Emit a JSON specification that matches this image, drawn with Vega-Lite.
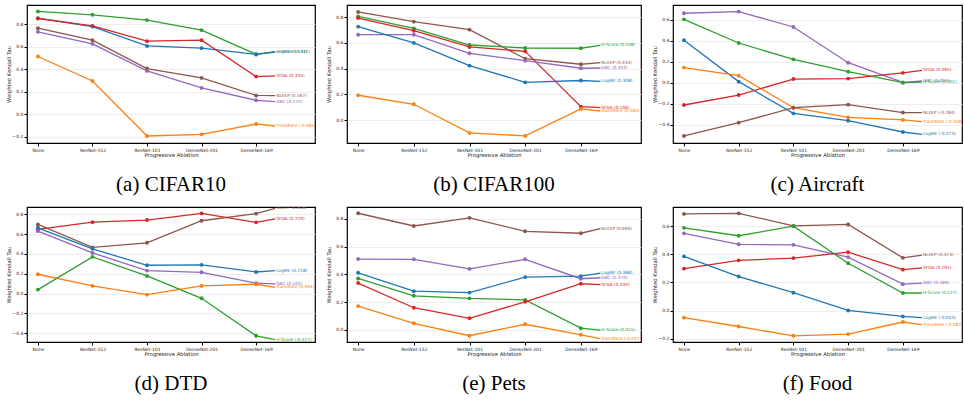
{
  "$schema": "https://vega.github.io/schema/vega-lite/v6.json",
  "padding": {"left": 5, "top": 4, "right": 0, "bottom": 0},
  "background": "white",
  "config": {
    "font": "DejaVu Sans",
    "view": {"stroke": "#000", "strokeWidth": 1.2},
    "axis": {
      "labelFont": "DejaVu Sans", "labelFontSize": 4.5, "labelColor": "#222",
      "titleFont": "DejaVu Sans", "titleFontSize": 5.3, "titleFontWeight": "normal", "titleColor": "#222",
      "domain": false, "tickColor": "#000", "tickSize": 3, "labelPadding": 1.2, "titlePadding": 1.5
    },
    "axisY": {"grid": true, "gridColor": "#e8e8e8", "gridWidth": 0.8, "minExtent": 14.5, "maxExtent": 14.5},
    "axisX": {"grid": false, "titlePadding": 1},
    "title": {"font": "Liberation Serif", "fontSize": 21, "fontWeight": "normal", "color": "#000", "orient": "bottom", "offset": 16, "anchor": "middle"}
  },
  "datasets": {
    "cifar10": [
      {"m": "H-Score", "s": 0, "v": 0.913}, {"m": "H-Score", "s": 1, "v": 0.883}, {"m": "H-Score", "s": 2, "v": 0.836}, {"m": "H-Score", "s": 3, "v": 0.747}, {"m": "H-Score", "s": 4, "v": 0.533}, {"m": "H-Score", "s": 4.35, "v": 0.557, "lab": "H-Score (0.532)"},
      {"m": "LogME", "s": 0, "v": 0.853}, {"m": "LogME", "s": 1, "v": 0.779}, {"m": "LogME", "s": 2, "v": 0.607}, {"m": "LogME", "s": 3, "v": 0.587}, {"m": "LogME", "s": 4, "v": 0.531}, {"m": "LogME", "s": 4.35, "v": 0.552, "lab": "LogME (0.531)"},
      {"m": "SFDA", "s": 0, "v": 0.850}, {"m": "SFDA", "s": 1, "v": 0.785}, {"m": "SFDA", "s": 2, "v": 0.649}, {"m": "SFDA", "s": 3, "v": 0.658}, {"m": "SFDA", "s": 4, "v": 0.335}, {"m": "SFDA", "s": 4.35, "v": 0.341, "lab": "SFDA (0.334)"},
      {"m": "NLEEP", "s": 0, "v": 0.764}, {"m": "NLEEP", "s": 1, "v": 0.658}, {"m": "NLEEP", "s": 2, "v": 0.406}, {"m": "NLEEP", "s": 3, "v": 0.323}, {"m": "NLEEP", "s": 4, "v": 0.167}, {"m": "NLEEP", "s": 4.35, "v": 0.165, "lab": "NLEEP (0.167)"},
      {"m": "GBC", "s": 0, "v": 0.732}, {"m": "GBC", "s": 1, "v": 0.625}, {"m": "GBC", "s": 2, "v": 0.385}, {"m": "GBC", "s": 3, "v": 0.234}, {"m": "GBC", "s": 4, "v": 0.124}, {"m": "GBC", "s": 4.35, "v": 0.113, "lab": "GBC (0.124)"},
      {"m": "TransRate", "s": 0, "v": 0.513}, {"m": "TransRate", "s": 1, "v": 0.296}, {"m": "TransRate", "s": 2, "v": -0.193}, {"m": "TransRate", "s": 3, "v": -0.178}, {"m": "TransRate", "s": 4, "v": -0.086}, {"m": "TransRate", "s": 4.35, "v": -0.104, "lab": "TransRate (-0.085)"}
    ],
    "cifar100": [
      {"m": "NLEEP", "s": 0, "v": 0.839}, {"m": "NLEEP", "s": 1, "v": 0.764}, {"m": "NLEEP", "s": 2, "v": 0.702}, {"m": "NLEEP", "s": 3, "v": 0.477}, {"m": "NLEEP", "s": 4, "v": 0.434}, {"m": "NLEEP", "s": 4.35, "v": 0.446, "lab": "NLEEP (0.434)"},
      {"m": "H-Score", "s": 0, "v": 0.805}, {"m": "H-Score", "s": 1, "v": 0.712}, {"m": "H-Score", "s": 2, "v": 0.583}, {"m": "H-Score", "s": 3, "v": 0.560}, {"m": "H-Score", "s": 4, "v": 0.558}, {"m": "H-Score", "s": 4.35, "v": 0.581, "lab": "H-Score (0.558)"},
      {"m": "SFDA", "s": 0, "v": 0.792}, {"m": "SFDA", "s": 1, "v": 0.694}, {"m": "SFDA", "s": 2, "v": 0.568}, {"m": "SFDA", "s": 3, "v": 0.534}, {"m": "SFDA", "s": 4, "v": 0.106}, {"m": "SFDA", "s": 4.35, "v": 0.098, "lab": "SFDA (0.106)"},
      {"m": "GBC", "s": 0, "v": 0.663}, {"m": "GBC", "s": 1, "v": 0.663}, {"m": "GBC", "s": 2, "v": 0.519}, {"m": "GBC", "s": 3, "v": 0.462}, {"m": "GBC", "s": 4, "v": 0.403}, {"m": "GBC", "s": 4.35, "v": 0.405, "lab": "GBC (0.403)"},
      {"m": "LogME", "s": 0, "v": 0.725}, {"m": "LogME", "s": 1, "v": 0.599}, {"m": "LogME", "s": 2, "v": 0.423}, {"m": "LogME", "s": 3, "v": 0.294}, {"m": "LogME", "s": 4, "v": 0.308}, {"m": "LogME", "s": 4.35, "v": 0.302, "lab": "LogME (0.308)"},
      {"m": "TransRate", "s": 0, "v": 0.194}, {"m": "TransRate", "s": 1, "v": 0.124}, {"m": "TransRate", "s": 2, "v": -0.098}, {"m": "TransRate", "s": 3, "v": -0.121}, {"m": "TransRate", "s": 4, "v": 0.088}, {"m": "TransRate", "s": 4.35, "v": 0.072, "lab": "TransRate (0.084)"}
    ],
    "aircraft": [
      {"m": "GBC", "s": 0, "v": 0.664}, {"m": "GBC", "s": 1, "v": 0.680}, {"m": "GBC", "s": 2, "v": 0.533}, {"m": "GBC", "s": 3, "v": 0.192}, {"m": "GBC", "s": 4, "v": 0.004}, {"m": "GBC", "s": 4.35, "v": 0.017, "lab": "GBC (0.004)"},
      {"m": "H-Score", "s": 0, "v": 0.606}, {"m": "H-Score", "s": 1, "v": 0.380}, {"m": "H-Score", "s": 2, "v": 0.224}, {"m": "H-Score", "s": 3, "v": 0.106}, {"m": "H-Score", "s": 4, "v": 0.001}, {"m": "H-Score", "s": 4.35, "v": 0.006, "lab": "H-Score (0.001)"},
      {"m": "LogME", "s": 0, "v": 0.406}, {"m": "LogME", "s": 1, "v": 0.011}, {"m": "LogME", "s": 2, "v": -0.292}, {"m": "LogME", "s": 3, "v": -0.362}, {"m": "LogME", "s": 4, "v": -0.470}, {"m": "LogME", "s": 4.35, "v": -0.492, "lab": "LogME (-0.473)"},
      {"m": "TransRate", "s": 0, "v": 0.145}, {"m": "TransRate", "s": 1, "v": 0.068}, {"m": "TransRate", "s": 2, "v": -0.238}, {"m": "TransRate", "s": 3, "v": -0.330}, {"m": "TransRate", "s": 4, "v": -0.355}, {"m": "TransRate", "s": 4.35, "v": -0.371, "lab": "TransRate (-0.358)"},
      {"m": "SFDA", "s": 0, "v": -0.212}, {"m": "SFDA", "s": 1, "v": -0.117}, {"m": "SFDA", "s": 2, "v": 0.036}, {"m": "SFDA", "s": 3, "v": 0.040}, {"m": "SFDA", "s": 4, "v": 0.095}, {"m": "SFDA", "s": 4.35, "v": 0.119, "lab": "SFDA (0.095)"},
      {"m": "NLEEP", "s": 0, "v": -0.508}, {"m": "NLEEP", "s": 1, "v": -0.381}, {"m": "NLEEP", "s": 2, "v": -0.238}, {"m": "NLEEP", "s": 3, "v": -0.209}, {"m": "NLEEP", "s": 4, "v": -0.284}, {"m": "NLEEP", "s": 4.35, "v": -0.284, "lab": "NLEEP (-0.284)"}
    ],
    "dtd": [
      {"m": "NLEEP", "s": 0, "v": 0.699}, {"m": "NLEEP", "s": 1, "v": 0.466}, {"m": "NLEEP", "s": 2, "v": 0.513}, {"m": "NLEEP", "s": 3, "v": 0.736}, {"m": "NLEEP", "s": 4, "v": 0.808}, {"m": "NLEEP", "s": 4.35, "v": 0.862, "lab": "NLEEP (0.808)"},
      {"m": "SFDA", "s": 0, "v": 0.648}, {"m": "SFDA", "s": 1, "v": 0.722}, {"m": "SFDA", "s": 2, "v": 0.743}, {"m": "SFDA", "s": 3, "v": 0.810}, {"m": "SFDA", "s": 4, "v": 0.720}, {"m": "SFDA", "s": 4.35, "v": 0.756, "lab": "SFDA (0.720)"},
      {"m": "LogME", "s": 0, "v": 0.665}, {"m": "LogME", "s": 1, "v": 0.452}, {"m": "LogME", "s": 2, "v": 0.286}, {"m": "LogME", "s": 3, "v": 0.290}, {"m": "LogME", "s": 4, "v": 0.218}, {"m": "LogME", "s": 4.35, "v": 0.232, "lab": "LogME (0.218)"},
      {"m": "GBC", "s": 0, "v": 0.631}, {"m": "GBC", "s": 1, "v": 0.411}, {"m": "GBC", "s": 2, "v": 0.232}, {"m": "GBC", "s": 3, "v": 0.215}, {"m": "GBC", "s": 4, "v": 0.105}, {"m": "GBC", "s": 4.35, "v": 0.097, "lab": "GBC (0.105)"},
      {"m": "TransRate", "s": 0, "v": 0.195}, {"m": "TransRate", "s": 1, "v": 0.077}, {"m": "TransRate", "s": 2, "v": -0.011}, {"m": "TransRate", "s": 3, "v": 0.077}, {"m": "TransRate", "s": 4, "v": 0.094}, {"m": "TransRate", "s": 4.35, "v": 0.063, "lab": "TransRate (0.094)"},
      {"m": "H-Score", "s": 0, "v": 0.040}, {"m": "H-Score", "s": 1, "v": 0.371}, {"m": "H-Score", "s": 2, "v": 0.178}, {"m": "H-Score", "s": 3, "v": -0.048}, {"m": "H-Score", "s": 4, "v": -0.427}, {"m": "H-Score", "s": 4.35, "v": -0.465, "lab": "H-Score (-0.427)"}
    ],
    "pets": [
      {"m": "NLEEP", "s": 0, "v": 0.840}, {"m": "NLEEP", "s": 1, "v": 0.748}, {"m": "NLEEP", "s": 2, "v": 0.807}, {"m": "NLEEP", "s": 3, "v": 0.710}, {"m": "NLEEP", "s": 4, "v": 0.696}, {"m": "NLEEP", "s": 4.35, "v": 0.729, "lab": "NLEEP (0.690)"},
      {"m": "GBC", "s": 0, "v": 0.510}, {"m": "GBC", "s": 1, "v": 0.508}, {"m": "GBC", "s": 2, "v": 0.439}, {"m": "GBC", "s": 3, "v": 0.508}, {"m": "GBC", "s": 4, "v": 0.368}, {"m": "GBC", "s": 4.35, "v": 0.375, "lab": "GBC (0.370)"},
      {"m": "LogME", "s": 0, "v": 0.411}, {"m": "LogME", "s": 1, "v": 0.278}, {"m": "LogME", "s": 2, "v": 0.268}, {"m": "LogME", "s": 3, "v": 0.380}, {"m": "LogME", "s": 4, "v": 0.387}, {"m": "LogME", "s": 4.35, "v": 0.408, "lab": "LogME (0.388)"},
      {"m": "H-Score", "s": 0, "v": 0.370}, {"m": "H-Score", "s": 1, "v": 0.245}, {"m": "H-Score", "s": 2, "v": 0.226}, {"m": "H-Score", "s": 3, "v": 0.216}, {"m": "H-Score", "s": 4, "v": 0.012}, {"m": "H-Score", "s": 4.35, "v": -0.002, "lab": "H-Score (0.015)"},
      {"m": "SFDA", "s": 0, "v": 0.337}, {"m": "SFDA", "s": 1, "v": 0.159}, {"m": "SFDA", "s": 2, "v": 0.083}, {"m": "SFDA", "s": 3, "v": 0.202}, {"m": "SFDA", "s": 4, "v": 0.332}, {"m": "SFDA", "s": 4.35, "v": 0.325, "lab": "SFDA (0.334)"},
      {"m": "TransRate", "s": 0, "v": 0.171}, {"m": "TransRate", "s": 1, "v": 0.047}, {"m": "TransRate", "s": 2, "v": -0.043}, {"m": "TransRate", "s": 3, "v": 0.040}, {"m": "TransRate", "s": 4, "v": -0.036}, {"m": "TransRate", "s": 4.35, "v": -0.064, "lab": "TransRate (-0.037)"}
    ],
    "food": [
      {"m": "NLEEP", "s": 0, "v": 0.687}, {"m": "NLEEP", "s": 1, "v": 0.691}, {"m": "NLEEP", "s": 2, "v": 0.602}, {"m": "NLEEP", "s": 3, "v": 0.612}, {"m": "NLEEP", "s": 4, "v": 0.375}, {"m": "NLEEP", "s": 4.35, "v": 0.394, "lab": "NLEEP (0.373)"},
      {"m": "H-Score", "s": 0, "v": 0.588}, {"m": "H-Score", "s": 1, "v": 0.532}, {"m": "H-Score", "s": 2, "v": 0.600}, {"m": "H-Score", "s": 3, "v": 0.336}, {"m": "H-Score", "s": 4, "v": 0.125}, {"m": "H-Score", "s": 4.35, "v": 0.125, "lab": "H-Score (0.127)"},
      {"m": "GBC", "s": 0, "v": 0.549}, {"m": "GBC", "s": 1, "v": 0.471}, {"m": "GBC", "s": 2, "v": 0.467}, {"m": "GBC", "s": 3, "v": 0.380}, {"m": "GBC", "s": 4, "v": 0.188}, {"m": "GBC", "s": 4.35, "v": 0.195, "lab": "GBC (0.189)"},
      {"m": "SFDA", "s": 0, "v": 0.298}, {"m": "SFDA", "s": 1, "v": 0.357}, {"m": "SFDA", "s": 2, "v": 0.373}, {"m": "SFDA", "s": 3, "v": 0.415}, {"m": "SFDA", "s": 4, "v": 0.291}, {"m": "SFDA", "s": 4.35, "v": 0.303, "lab": "SFDA (0.291)"},
      {"m": "LogME", "s": 0, "v": 0.385}, {"m": "LogME", "s": 1, "v": 0.242}, {"m": "LogME", "s": 2, "v": 0.127}, {"m": "LogME", "s": 3, "v": 0.001}, {"m": "LogME", "s": 4, "v": -0.041}, {"m": "LogME", "s": 4.35, "v": -0.050, "lab": "LogME (-0.043)"},
      {"m": "TransRate", "s": 0, "v": -0.050}, {"m": "TransRate", "s": 1, "v": -0.113}, {"m": "TransRate", "s": 2, "v": -0.179}, {"m": "TransRate", "s": 3, "v": -0.167}, {"m": "TransRate", "s": 4, "v": -0.081}, {"m": "TransRate", "s": 4.35, "v": -0.099, "lab": "TransRate (-0.082)"}
    ]
  },
  "columns": 3,
  "align": "none",
  "spacing": {"row": 10, "column": 9},
  "concat": [
    {
      "data": {"name": "cifar10"}, "width": 288, "height": 138,
      "title": {"text": "(a) CIFAR10"},
      "encoding": {
        "x": {"field": "s", "type": "quantitative", "scale": {"domain": [-0.2, 5.08], "nice": false, "zero": false}, "axis": {"values": [0, 1, 2, 3, 4], "labelExpr": "['None','ResNet-152','ResNet-101','DenseNet-201','DenseNet-169'][datum.value]", "title": "Progressive Ablation"}},
        "y": {"field": "v", "type": "quantitative", "scale": {"domain": [-0.255, 0.97], "nice": false, "zero": false}, "axis": {"values": [-0.2, 0, 0.2, 0.4, 0.6, 0.8], "format": ".1f", "title": "Weighted Kendall Tau"}},
        "color": {"field": "m", "type": "nominal", "legend": null, "scale": {"domain": ["LogME", "TransRate", "H-Score", "SFDA", "GBC", "NLEEP"], "range": ["#1f77b4", "#ff7f0e", "#2ca02c", "#d62728", "#9467bd", "#8c564b"]}}
      },
      "layer": [
        {"mark": {"type": "line", "strokeWidth": 1.3, "clip": true}},
        {"transform": [{"filter": "!datum.lab"}], "mark": {"type": "circle", "size": 15, "opacity": 1}},
        {"transform": [{"filter": "datum.lab"}], "mark": {"type": "text", "align": "left", "baseline": "middle", "dx": 1, "fontSize": 4.3, "clip": true}, "encoding": {"text": {"field": "lab"}}}
      ]
    },
    {
      "data": {"name": "cifar100"}, "width": 294, "height": 138,
      "title": {"text": "(b) CIFAR100"},
      "encoding": {
        "x": {"field": "s", "type": "quantitative", "scale": {"domain": [-0.2, 5.08], "nice": false, "zero": false}, "axis": {"values": [0, 1, 2, 3, 4], "labelExpr": "['None','ResNet-152','ResNet-101','DenseNet-201','DenseNet-169'][datum.value]", "title": "Progressive Ablation"}},
        "y": {"field": "v", "type": "quantitative", "scale": {"domain": [-0.176, 0.893], "nice": false, "zero": false}, "axis": {"values": [0, 0.2, 0.4, 0.6, 0.8], "format": ".1f", "title": "Weighted Kendall Tau"}},
        "color": {"field": "m", "type": "nominal", "legend": null, "scale": {"domain": ["LogME", "TransRate", "H-Score", "SFDA", "GBC", "NLEEP"], "range": ["#1f77b4", "#ff7f0e", "#2ca02c", "#d62728", "#9467bd", "#8c564b"]}}
      },
      "layer": [
        {"mark": {"type": "line", "strokeWidth": 1.3, "clip": true}},
        {"transform": [{"filter": "!datum.lab"}], "mark": {"type": "circle", "size": 15, "opacity": 1}},
        {"transform": [{"filter": "datum.lab"}], "mark": {"type": "text", "align": "left", "baseline": "middle", "dx": 1, "fontSize": 4.3, "clip": true}, "encoding": {"text": {"field": "lab"}}}
      ]
    },
    {
      "data": {"name": "aircraft"}, "width": 289, "height": 138,
      "title": {"text": "(c) Aircraft"},
      "encoding": {
        "x": {"field": "s", "type": "quantitative", "scale": {"domain": [-0.2, 5.08], "nice": false, "zero": false}, "axis": {"values": [0, 1, 2, 3, 4], "labelExpr": "['None','ResNet-152','ResNet-101','DenseNet-201','DenseNet-169'][datum.value]", "title": "Progressive Ablation"}},
        "y": {"field": "v", "type": "quantitative", "scale": {"domain": [-0.575, 0.743], "nice": false, "zero": false}, "axis": {"values": [-0.4, -0.2, 0, 0.2, 0.4, 0.6], "format": ".1f", "title": "Weighted Kendall Tau"}},
        "color": {"field": "m", "type": "nominal", "legend": null, "scale": {"domain": ["LogME", "TransRate", "H-Score", "SFDA", "GBC", "NLEEP"], "range": ["#1f77b4", "#ff7f0e", "#2ca02c", "#d62728", "#9467bd", "#8c564b"]}}
      },
      "layer": [
        {"mark": {"type": "line", "strokeWidth": 1.3, "clip": true}},
        {"transform": [{"filter": "!datum.lab"}], "mark": {"type": "circle", "size": 15, "opacity": 1}},
        {"transform": [{"filter": "datum.lab"}], "mark": {"type": "text", "align": "left", "baseline": "middle", "dx": 1, "fontSize": 4.3, "clip": true}, "encoding": {"text": {"field": "lab"}}}
      ]
    },
    {
      "data": {"name": "dtd"}, "width": 288, "height": 135,
      "title": {"text": "(d) DTD"},
      "encoding": {
        "x": {"field": "s", "type": "quantitative", "scale": {"domain": [-0.2, 5.08], "nice": false, "zero": false}, "axis": {"values": [0, 1, 2, 3, 4], "labelExpr": "['None','ResNet-152','ResNet-101','DenseNet-201','DenseNet-169'][datum.value]", "title": "Progressive Ablation"}},
        "y": {"field": "v", "type": "quantitative", "scale": {"domain": [-0.49, 0.875], "nice": false, "zero": false}, "axis": {"values": [-0.4, -0.2, 0, 0.2, 0.4, 0.6, 0.8], "format": ".1f", "title": "Weighted Kendall Tau"}},
        "color": {"field": "m", "type": "nominal", "legend": null, "scale": {"domain": ["LogME", "TransRate", "H-Score", "SFDA", "GBC", "NLEEP"], "range": ["#1f77b4", "#ff7f0e", "#2ca02c", "#d62728", "#9467bd", "#8c564b"]}}
      },
      "layer": [
        {"mark": {"type": "line", "strokeWidth": 1.3, "clip": true}},
        {"transform": [{"filter": "!datum.lab"}], "mark": {"type": "circle", "size": 15, "opacity": 1}},
        {"transform": [{"filter": "datum.lab"}], "mark": {"type": "text", "align": "left", "baseline": "middle", "dx": 1, "fontSize": 4.3, "clip": true}, "encoding": {"text": {"field": "lab"}}}
      ]
    },
    {
      "data": {"name": "pets"}, "width": 294, "height": 135,
      "title": {"text": "(e) Pets"},
      "encoding": {
        "x": {"field": "s", "type": "quantitative", "scale": {"domain": [-0.2, 5.08], "nice": false, "zero": false}, "axis": {"values": [0, 1, 2, 3, 4], "labelExpr": "['None','ResNet-152','ResNet-101','DenseNet-201','DenseNet-169'][datum.value]", "title": "Progressive Ablation"}},
        "y": {"field": "v", "type": "quantitative", "scale": {"domain": [-0.088, 0.885], "nice": false, "zero": false}, "axis": {"values": [0, 0.2, 0.4, 0.6, 0.8], "format": ".1f", "title": "Weighted Kendall Tau"}},
        "color": {"field": "m", "type": "nominal", "legend": null, "scale": {"domain": ["LogME", "TransRate", "H-Score", "SFDA", "GBC", "NLEEP"], "range": ["#1f77b4", "#ff7f0e", "#2ca02c", "#d62728", "#9467bd", "#8c564b"]}}
      },
      "layer": [
        {"mark": {"type": "line", "strokeWidth": 1.3, "clip": true}},
        {"transform": [{"filter": "!datum.lab"}], "mark": {"type": "circle", "size": 15, "opacity": 1}},
        {"transform": [{"filter": "datum.lab"}], "mark": {"type": "text", "align": "left", "baseline": "middle", "dx": 1, "fontSize": 4.3, "clip": true}, "encoding": {"text": {"field": "lab"}}}
      ]
    },
    {
      "data": {"name": "food"}, "width": 289, "height": 135,
      "title": {"text": "(f) Food"},
      "encoding": {
        "x": {"field": "s", "type": "quantitative", "scale": {"domain": [-0.2, 5.08], "nice": false, "zero": false}, "axis": {"values": [0, 1, 2, 3, 4], "labelExpr": "['None','ResNet-152','ResNet-101','DenseNet-201','DenseNet-169'][datum.value]", "title": "Progressive Ablation"}},
        "y": {"field": "v", "type": "quantitative", "scale": {"domain": [-0.223, 0.736], "nice": false, "zero": false}, "axis": {"values": [-0.2, 0, 0.2, 0.4, 0.6], "format": ".1f", "title": "Weighted Kendall Tau"}},
        "color": {"field": "m", "type": "nominal", "legend": null, "scale": {"domain": ["LogME", "TransRate", "H-Score", "SFDA", "GBC", "NLEEP"], "range": ["#1f77b4", "#ff7f0e", "#2ca02c", "#d62728", "#9467bd", "#8c564b"]}}
      },
      "layer": [
        {"mark": {"type": "line", "strokeWidth": 1.3, "clip": true}},
        {"transform": [{"filter": "!datum.lab"}], "mark": {"type": "circle", "size": 15, "opacity": 1}},
        {"transform": [{"filter": "datum.lab"}], "mark": {"type": "text", "align": "left", "baseline": "middle", "dx": 1, "fontSize": 4.3, "clip": true}, "encoding": {"text": {"field": "lab"}}}
      ]
    }
  ]
}
